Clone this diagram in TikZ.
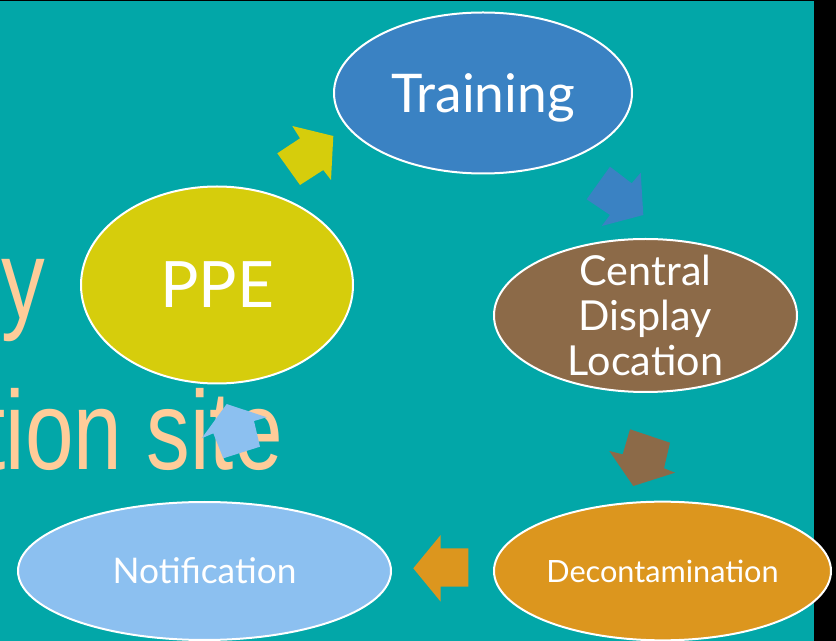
\documentclass[tikz,border=0pt]{standalone}
\usepackage{fontspec}
\setmainfont{Lato}
\newfontfamily\arialfont{Liberation Sans}
\usetikzlibrary{shapes.geometric}

\definecolor{sea}{RGB}{2,167,168}
\definecolor{trainblue}{RGB}{58,130,195}
\definecolor{ppeyellow}{RGB}{214,205,12}
\definecolor{displaybrown}{RGB}{140,106,72}
\definecolor{deconorange}{RGB}{220,150,30}
\definecolor{notifyblue}{RGB}{140,192,240}
\definecolor{peach}{RGB}{255,204,153}

\tikzset{
  stage/.style={ellipse, draw=white, line width=1.5pt, text=white, inner sep=0pt, align=center},
  bigtitle/.style={anchor=base east, inner sep=0pt, text=peach, font=\arialfont\fontsize{84}{84}\selectfont},
}

\begin{document}
\begin{tikzpicture}[x=0.75pt,y=-0.75pt]
  \useasboundingbox (0,0) rectangle (836,641);
  \clip (0,0) rectangle (836,641);
  \fill[sea] (0,0) rectangle (836,641);
  \fill[black] (814,0) rectangle (836,641);
  \fill[black] (0,0) rectangle (814,1);
  % title lines, cut off at the left
  \node[bigtitle] (titleone) at (45,319) {\scalebox{0.78}[1]{y}};
  \node[bigtitle] (titletwo) at (283,470) {\scalebox{0.78}[1]{tion site}};
  % stages of the cycle
  \node[stage, fill=trainblue, minimum width=223.5pt, minimum height=120.75pt,
        font=\fontsize{40}{48}\selectfont] (training) at (483,93) {\raisebox{-4pt}[\height][\depth]{Training}};
  \node[stage, fill=displaybrown, minimum width=227.25pt, minimum height=114.75pt,
        inner ysep=-12pt, font=\fontsize{31}{34}\selectfont] (display) at (645.5,315.5) {Central\\Display\\Location};
  \node[stage, fill=deconorange, minimum width=252.75pt, minimum height=104pt,
        font=\fontsize{23}{27}\selectfont] (decon) at (662.5,571) {Decontamination};
  \node[stage, fill=notifyblue, minimum width=279.75pt, minimum height=103.5pt,
        font=\fontsize{26.5}{32}\selectfont] (notify) at (204.5,571) {Notification};
  \node[stage, fill=ppeyellow, minimum width=204pt, minimum height=147.75pt,
        font=\fontsize{48}{58}\selectfont] (ppe) at (217,285) {PPE};
  % block arrows between the stages
  \fill[ppeyellow] (292.3,126) -- (333.3,136) -- (331,180) -- (323.3,170) -- (300,185)
    -- (277.3,153.3) -- (300,138.3) -- cycle;
  \fill[trainblue] (610,166.7) -- (631.7,183.3) -- (640.7,172.7) -- (643.3,215)
    -- (601.7,226) -- (610,215) -- (586.7,199.3) -- cycle;
  \fill[displaybrown] (630,429.3) -- (670,442.7) -- (664,468.3) -- (675,472.7)
    -- (633.3,486) -- (609.3,451) -- (622.7,454.3) -- cycle;
  \fill[deconorange] (468.3,548.3) -- (468.3,586.7) -- (440.7,586.7) -- (440.7,601.7)
    -- (413.3,568.3) -- (440.7,535) -- (440.7,548.3) -- cycle;
  \fill[notifyblue] (226.7,404) -- (266.7,417.3) -- (254,421) -- (260,446.7) -- (223.3,458.3)
    -- (213.3,433.3) -- (201.7,438.3) -- cycle;
\end{tikzpicture}
\end{document}
